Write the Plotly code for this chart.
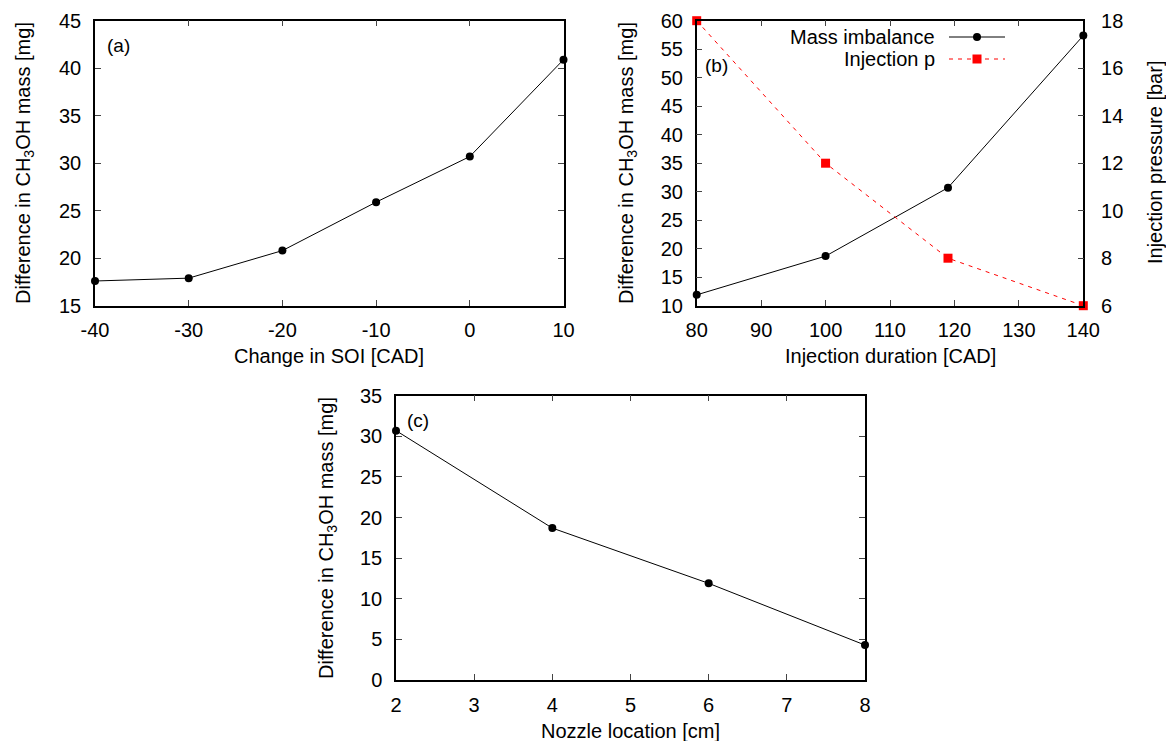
import plotly.graph_objects as go

W, H = 1166, 741

# ---- data ----
soi_change = [-40, -30, -20, -10, 0, 10]
soi_tick_labels = ["-40", "-30", "-20", "-10", "0", "10"]
soi_mass = [17.6, 17.9, 20.8, 25.9, 30.7, 40.9]

inj_duration = [80, 100, 119, 140]
inj_mass = [11.9, 18.7, 30.7, 57.4]
inj_pressure = [18, 12, 8, 6]

nozzle_loc = [2, 4, 6, 8]
nozzle_mass = [30.7, 18.7, 11.9, 4.3]

FONT = "Liberation Sans, Arial, Helvetica, sans-serif"
FS = 20


def px_x(p):
    return p / W


def px_y(p):
    return 1 - p / H


def xd(l, r):
    return [px_x(l), px_x(r)]


def yd(t, b):
    return [px_y(b), px_y(t)]


axis_common = dict(
    showline=True, linecolor="black", linewidth=1.5,
    ticks="inside", ticklen=6, tickwidth=1, tickcolor="#444",
    showgrid=False, zeroline=False, automargin=False,
    tickfont=dict(family=FONT, size=FS, color="black"),
)

fig = go.Figure()

marker_c = dict(symbol="circle", size=8, color="black")
line_k = dict(color="black", width=1)

fig.add_trace(go.Scatter(x=soi_change, y=soi_mass, xaxis="x", yaxis="y",
                         mode="lines+markers", line=line_k, marker=marker_c,
                         cliponaxis=False, showlegend=False))
fig.add_trace(go.Scatter(x=inj_duration, y=inj_pressure, xaxis="x2", yaxis="y3",
                         mode="lines+markers",
                         line=dict(color="red", width=1, dash="4px,5px"),
                         marker=dict(symbol="square", size=9, color="red"),
                         cliponaxis=False, showlegend=False))
fig.add_trace(go.Scatter(x=inj_duration, y=inj_mass, xaxis="x2", yaxis="y2",
                         mode="lines+markers", line=line_k, marker=marker_c,
                         cliponaxis=False, showlegend=False))
fig.add_trace(go.Scatter(x=nozzle_loc, y=nozzle_mass, xaxis="x3", yaxis="y4",
                         mode="lines+markers", line=line_k, marker=marker_c,
                         cliponaxis=False, showlegend=False))

fig.update_layout(
    template="none",
    width=W, height=H, autosize=False,
    margin=dict(l=0, r=0, t=0, b=0, pad=0, autoexpand=False),
    paper_bgcolor="white", plot_bgcolor="white",
    font=dict(family=FONT, size=FS, color="black"),
    xaxis=dict(domain=xd(95, 563.5), anchor="y", range=[-40, 10],
               tickmode="array", tickvals=soi_change, ticktext=soi_tick_labels,
               mirror="ticks", ticklabelstandoff=6, **axis_common),
    yaxis=dict(domain=yd(20.7, 305.7), anchor="x", range=[15, 45], dtick=5,
               mirror="ticks", ticklabelstandoff=8, **axis_common),
    xaxis2=dict(domain=xd(696.7, 1083.3), anchor="y2", range=[80, 140], dtick=10,
                mirror="ticks", ticklabelstandoff=6, **axis_common),
    yaxis2=dict(domain=yd(20.7, 305.7), anchor="x2", range=[10, 60], dtick=5,
                mirror=True, ticklabelstandoff=8, **axis_common),
    yaxis3=dict(overlaying="y2", anchor="x2", side="right", range=[6, 18], dtick=2,
                ticklabelstandoff=12, **axis_common),
    xaxis3=dict(domain=xd(396, 865), anchor="y4", range=[2, 8], dtick=1,
                mirror="ticks", ticklabelstandoff=6, **axis_common),
    yaxis4=dict(domain=yd(395.7, 680), anchor="x3", range=[0, 35], dtick=5,
                mirror="ticks", ticklabelstandoff=8, **axis_common),
)

ytitle = "Difference in CH<sub>3</sub>OH mass [mg]"
ann = []


def add_text(text, x, y, angle=0, xanchor="center", size=FS):
    ann.append(dict(text=text, x=px_x(x), y=px_y(y), xref="paper", yref="paper",
                    showarrow=False, textangle=angle, xanchor=xanchor,
                    yanchor="middle", font=dict(family=FONT, size=size, color="black")))


add_text(ytitle, 25, 163, angle=-90)
add_text(ytitle, 628, 163, angle=-90)
add_text("Injection pressure [bar]", 1155, 163, angle=-90)
add_text(ytitle, 327, 538, angle=-90)
add_text("Change in SOI [CAD]", 329, 356)
add_text("Injection duration [CAD]", 890, 356)
add_text("Nozzle location [cm]", 630, 731)
add_text("(a)", 118, 45, size=19)
add_text("(b)", 716, 66, size=19)
add_text("(c)", 418, 420, size=19)
add_text("Mass imbalance", 937, 37, xanchor="right")
add_text("Injection p", 937, 59, xanchor="right")

shapes = [
    dict(type="line", xref="paper", yref="paper", x0=px_x(949), x1=px_x(1005),
         y0=px_y(37), y1=px_y(37), line=dict(color="black", width=1)),
    dict(type="circle", xref="paper", yref="paper", x0=px_x(973), x1=px_x(981),
         y0=px_y(41), y1=px_y(33), fillcolor="black", line=dict(color="black", width=0)),
    dict(type="line", xref="paper", yref="paper", x0=px_x(949), x1=px_x(1005),
         y0=px_y(59), y1=px_y(59), line=dict(color="red", width=1, dash="4px,5px")),
    dict(type="rect", xref="paper", yref="paper", x0=px_x(972.5), x1=px_x(981.5),
         y0=px_y(63.5), y1=px_y(54.5), fillcolor="red", line=dict(color="red", width=0)),
]

fig.update_layout(annotations=ann, shapes=shapes)

fig.write_html("out.html", config={"displayModeBar": False},
               post_script="document.body.style.margin='0';")
